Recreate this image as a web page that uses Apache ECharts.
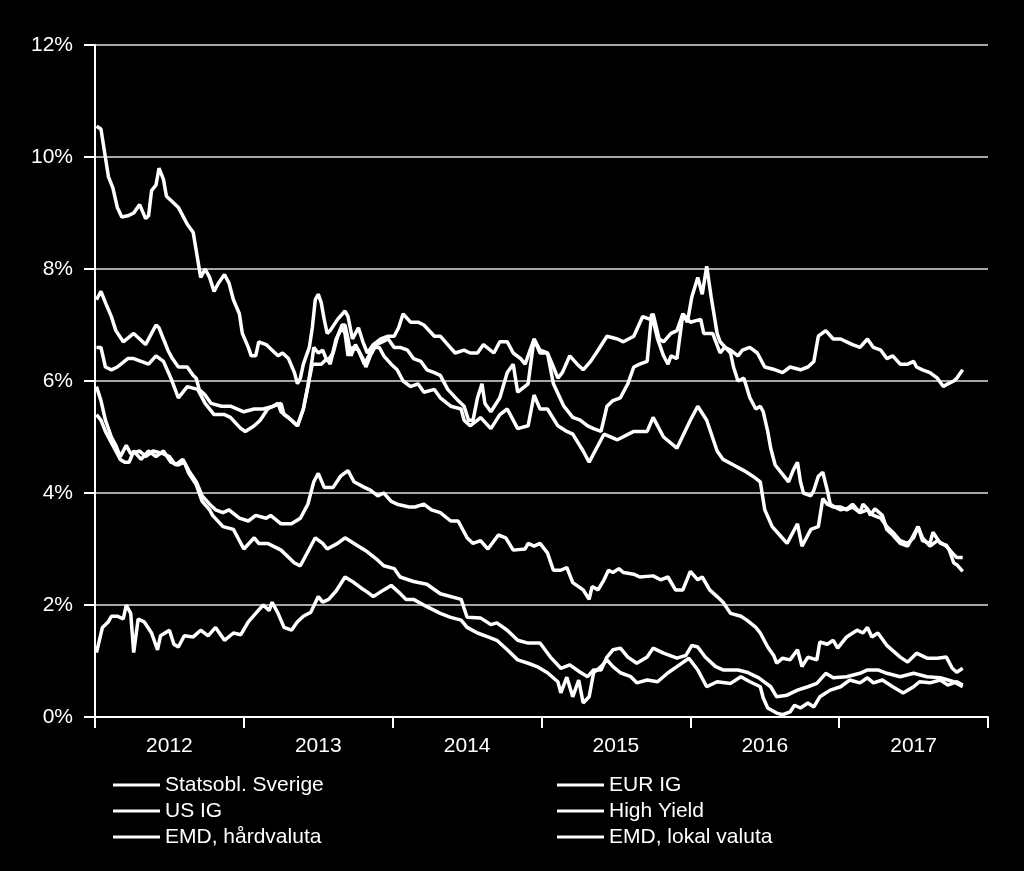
<!DOCTYPE html>
<html>
<head>
<meta charset="utf-8">
<script src="https://cdn.jsdelivr.net/npm/echarts@6/dist/echarts.min.js"></script>
<style>
html,body{margin:0;padding:0;background:#000;}
#chart{width:1024px;height:871px;}
</style>
</head>
<body>
<div id="chart"></div>
<script>
// Year categories for the bottom axis
const years = ['2012', '2013', '2014', '2015', '2016', '2017'];
const yTicks = [0, 2, 4, 6, 8, 10, 12];

// Series data: [decimal year, yield %]
const highYield = [
[2012.01,10.55],[2012.04,10.5],[2012.09,9.65],[2012.12,9.45],[2012.15,9.1],[2012.18,8.93],[2012.22,8.95],[2012.26,9.0],[2012.30,9.15],[2012.34,8.9],[2012.36,8.95],[2012.38,9.4],[2012.41,9.5],[2012.43,9.8],[2012.46,9.6],[2012.48,9.3],[2012.52,9.2],[2012.56,9.1],[2012.62,8.8],[2012.66,8.65],[2012.71,7.85],[2012.74,8.0],[2012.77,7.85],[2012.80,7.6],[2012.83,7.75],[2012.87,7.9],[2012.90,7.75],[2012.93,7.45],[2012.97,7.2],[2012.99,6.85],
[2013.03,6.6],[2013.05,6.45],[2013.08,6.45],[2013.10,6.7],[2013.15,6.65],[2013.19,6.55],[2013.23,6.45],[2013.26,6.5],[2013.30,6.4],[2013.34,6.15],[2013.36,5.95],[2013.38,6.05],[2013.40,6.3],[2013.44,6.6],[2013.46,6.95],[2013.48,7.45],[2013.50,7.55],[2013.52,7.4],[2013.54,7.1],[2013.56,6.85],[2013.58,6.9],[2013.63,7.1],[2013.68,7.25],[2013.70,7.15],[2013.73,6.75],[2013.77,6.95],[2013.80,6.7],[2013.83,6.5],[2013.87,6.65],[2013.92,6.75],[2013.97,6.8],
[2014.01,6.8],[2014.04,6.95],[2014.07,7.2],[2014.12,7.05],[2014.17,7.05],[2014.21,7.0],[2014.28,6.8],[2014.32,6.8],[2014.37,6.65],[2014.42,6.5],[2014.48,6.55],[2014.52,6.5],[2014.57,6.5],[2014.61,6.65],[2014.68,6.5],[2014.72,6.7],[2014.77,6.7],[2014.81,6.5],[2014.86,6.4],[2014.89,6.3],[2014.95,6.75],[2014.99,6.55],
[2015.04,6.5],[2015.08,5.95],[2015.15,5.55],[2015.21,5.35],[2015.26,5.3],[2015.31,5.2],[2015.35,5.15],[2015.40,5.1],[2015.44,5.55],[2015.48,5.65],[2015.53,5.7],[2015.58,5.95],[2015.62,6.25],[2015.66,6.3],[2015.71,6.35],[2015.74,7.2],[2015.78,6.75],[2015.82,6.45],[2015.85,6.3],[2015.87,6.45],[2015.91,6.4],[2015.95,7.2],[2015.98,7.05],
[2016.01,7.5],[2016.05,7.85],[2016.08,7.55],[2016.11,8.05],[2016.14,7.5],[2016.18,6.85],[2016.20,6.7],[2016.27,6.5],[2016.29,6.25],[2016.32,6.0],[2016.36,6.05],[2016.40,5.7],[2016.44,5.5],[2016.47,5.55],[2016.49,5.45],[2016.52,5.1],[2016.54,4.8],[2016.57,4.5],[2016.60,4.4],[2016.66,4.2],[2016.69,4.4],[2016.72,4.55],[2016.74,4.2],[2016.76,4.0],[2016.81,3.95],[2016.83,4.05],[2016.86,4.3],[2016.89,4.37],[2016.92,4.05],[2016.94,3.8],[2016.97,3.75],
[2017.01,3.7],[2017.06,3.73],[2017.09,3.8],[2017.14,3.65],[2017.16,3.8],[2017.19,3.72],[2017.21,3.6],[2017.24,3.72],[2017.29,3.6],[2017.32,3.35],[2017.36,3.25],[2017.41,3.1],[2017.46,3.05],[2017.50,3.25],[2017.53,3.4],[2017.56,3.15],[2017.61,3.1],[2017.63,3.3],[2017.68,3.1],[2017.72,3.07],[2017.74,2.98],[2017.77,2.75],[2017.79,2.72],[2017.83,2.6]
];

const emdLokal = [
[2012.01,7.45],[2012.04,7.6],[2012.07,7.4],[2012.11,7.15],[2012.14,6.9],[2012.19,6.7],[2012.26,6.85],[2012.30,6.75],[2012.34,6.65],[2012.38,6.85],[2012.41,7.0],[2012.43,6.95],[2012.46,6.75],[2012.49,6.55],[2012.52,6.4],[2012.56,6.25],[2012.62,6.25],[2012.66,6.1],[2012.68,6.05],[2012.70,5.85],[2012.74,5.75],[2012.78,5.6],[2012.85,5.55],[2012.91,5.55],
[2013.00,5.45],[2013.07,5.5],[2013.13,5.5],[2013.20,5.55],[2013.25,5.6],[2013.27,5.4],[2013.32,5.3],[2013.36,5.2],[2013.40,5.5],[2013.43,5.9],[2013.46,6.4],[2013.47,6.6],[2013.50,6.5],[2013.53,6.55],[2013.56,6.35],[2013.60,6.5],[2013.63,6.8],[2013.66,7.0],[2013.68,7.0],[2013.70,6.75],[2013.72,6.45],[2013.75,6.65],[2013.77,6.55],[2013.80,6.4],[2013.82,6.25],[2013.85,6.45],[2013.89,6.65],[2013.93,6.7],[2013.97,6.75],
[2014.01,6.6],[2014.05,6.6],[2014.10,6.55],[2014.14,6.4],[2014.19,6.35],[2014.23,6.2],[2014.28,6.15],[2014.32,6.1],[2014.37,5.85],[2014.44,5.65],[2014.48,5.55],[2014.51,5.3],[2014.54,5.3],[2014.57,5.7],[2014.60,5.95],[2014.62,5.6],[2014.66,5.45],[2014.72,5.7],[2014.77,6.15],[2014.81,6.3],[2014.84,5.8],[2014.91,5.95],[2014.95,6.75],[2014.99,6.5],
[2015.04,6.5],[2015.08,6.25],[2015.11,6.05],[2015.14,6.15],[2015.19,6.45],[2015.24,6.3],[2015.28,6.2],[2015.33,6.35],[2015.38,6.55],[2015.44,6.8],[2015.51,6.75],[2015.55,6.7],[2015.62,6.8],[2015.68,7.15],[2015.73,7.1],[2015.75,7.2],[2015.79,6.75],[2015.82,6.7],[2015.87,6.85],[2015.91,6.9],[2015.95,7.2],
[2016.00,7.05],[2016.07,7.1],[2016.09,6.85],[2016.15,6.85],[2016.20,6.5],[2016.23,6.6],[2016.27,6.55],[2016.32,6.45],[2016.35,6.55],[2016.40,6.6],[2016.45,6.5],[2016.50,6.25],[2016.57,6.2],[2016.62,6.15],[2016.67,6.25],[2016.74,6.2],[2016.79,6.25],[2016.83,6.35],[2016.86,6.8],[2016.91,6.9],[2016.96,6.75],
[2017.01,6.75],[2017.05,6.7],[2017.09,6.65],[2017.14,6.6],[2017.19,6.75],[2017.23,6.6],[2017.28,6.55],[2017.32,6.4],[2017.36,6.45],[2017.41,6.3],[2017.46,6.3],[2017.50,6.35],[2017.52,6.25],[2017.56,6.2],[2017.61,6.15],[2017.66,6.05],[2017.70,5.9],[2017.73,5.95],[2017.77,6.0],[2017.79,6.05],[2017.83,6.2]
];

const emdHard = [
[2012.01,6.6],[2012.04,6.6],[2012.07,6.25],[2012.11,6.2],[2012.15,6.25],[2012.22,6.4],[2012.26,6.4],[2012.31,6.35],[2012.36,6.3],[2012.41,6.45],[2012.46,6.35],[2012.51,6.05],[2012.56,5.7],[2012.62,5.9],[2012.69,5.85],[2012.74,5.6],[2012.80,5.4],[2012.87,5.4],[2012.91,5.35],[2012.98,5.15],
[2013.01,5.1],[2013.07,5.2],[2013.11,5.3],[2013.16,5.5],[2013.23,5.6],[2013.25,5.45],[2013.30,5.35],[2013.36,5.2],[2013.40,5.5],[2013.43,5.9],[2013.46,6.3],[2013.48,6.3],[2013.52,6.3],[2013.56,6.4],[2013.58,6.3],[2013.62,6.75],[2013.66,6.95],[2013.68,6.85],[2013.70,6.45],[2013.73,6.6],[2013.77,6.55],[2013.81,6.3],[2013.84,6.45],[2013.87,6.6],[2013.91,6.6],[2013.94,6.45],[2013.99,6.3],
[2014.03,6.2],[2014.07,6.0],[2014.12,5.9],[2014.17,5.95],[2014.21,5.8],[2014.28,5.85],[2014.32,5.7],[2014.39,5.55],[2014.46,5.5],[2014.48,5.3],[2014.52,5.2],[2014.57,5.3],[2014.59,5.35],[2014.66,5.15],[2014.72,5.4],[2014.77,5.5],[2014.84,5.15],[2014.91,5.2],[2014.95,5.75],[2014.99,5.5],
[2015.04,5.5],[2015.11,5.2],[2015.17,5.1],[2015.21,5.05],[2015.28,4.75],[2015.32,4.55],[2015.35,4.7],[2015.42,5.05],[2015.51,4.95],[2015.62,5.1],[2015.71,5.1],[2015.75,5.35],[2015.82,5.0],[2015.91,4.8],
[2016.00,5.3],[2016.05,5.55],[2016.11,5.3],[2016.18,4.75],[2016.22,4.6],[2016.29,4.5],[2016.36,4.4],[2016.42,4.3],[2016.47,4.2],[2016.50,3.7],[2016.55,3.4],[2016.60,3.25],[2016.65,3.1],[2016.72,3.45],[2016.75,3.05],[2016.81,3.35],[2016.86,3.4],[2016.89,3.9],[2016.92,3.8],[2016.96,3.75],
[2017.01,3.75],[2017.05,3.7],[2017.09,3.75],[2017.14,3.65],[2017.19,3.7],[2017.23,3.6],[2017.28,3.55],[2017.32,3.4],[2017.36,3.3],[2017.41,3.15],[2017.46,3.1],[2017.50,3.2],[2017.53,3.4],[2017.56,3.2],[2017.61,3.05],[2017.66,3.15],[2017.72,3.05],[2017.77,2.9],[2017.79,2.85],[2017.83,2.85]
];

const usIG = [
[2012.01,5.9],[2012.04,5.65],[2012.07,5.3],[2012.11,5.0],[2012.14,4.85],[2012.17,4.65],[2012.21,4.85],[2012.24,4.7],[2012.30,4.75],[2012.34,4.65],[2012.39,4.75],[2012.46,4.7],[2012.50,4.65],[2012.54,4.5],[2012.59,4.6],[2012.63,4.4],[2012.68,4.2],[2012.72,3.95],[2012.77,3.8],[2012.81,3.7],[2012.86,3.65],[2012.90,3.7],[2012.97,3.55],
[2013.03,3.5],[2013.08,3.6],[2013.15,3.55],[2013.18,3.6],[2013.25,3.45],[2013.32,3.45],[2013.38,3.55],[2013.43,3.8],[2013.47,4.2],[2013.50,4.35],[2013.54,4.1],[2013.60,4.1],[2013.65,4.3],[2013.70,4.4],[2013.74,4.2],[2013.81,4.1],[2013.85,4.05],[2013.90,3.95],[2013.94,4.0],[2013.99,3.85],
[2014.03,3.8],[2014.11,3.75],[2014.15,3.75],[2014.21,3.8],[2014.26,3.7],[2014.32,3.65],[2014.39,3.5],[2014.44,3.5],[2014.50,3.2],[2014.54,3.1],[2014.59,3.15],[2014.64,3.0],[2014.71,3.25],[2014.76,3.2],[2014.81,2.98],[2014.89,3.0],[2014.91,3.1],[2014.95,3.05],[2014.99,3.1],
[2015.04,2.93],[2015.08,2.62],[2015.13,2.62],[2015.17,2.67],[2015.21,2.4],[2015.28,2.27],[2015.32,2.1],[2015.34,2.33],[2015.38,2.27],[2015.42,2.45],[2015.45,2.62],[2015.48,2.58],[2015.52,2.65],[2015.55,2.58],[2015.62,2.55],[2015.66,2.5],[2015.75,2.52],[2015.80,2.45],[2015.85,2.5],[2015.90,2.27],[2015.95,2.27],
[2016.00,2.6],[2016.05,2.45],[2016.08,2.5],[2016.13,2.27],[2016.18,2.15],[2016.22,2.05],[2016.27,1.85],[2016.34,1.8],[2016.38,1.73],[2016.44,1.6],[2016.47,1.5],[2016.52,1.25],[2016.56,1.1],[2016.58,0.96],[2016.62,1.05],[2016.67,1.02],[2016.72,1.2],[2016.75,0.9],[2016.79,1.07],[2016.85,1.02],[2016.87,1.34],[2016.92,1.3],[2016.96,1.37],[2016.99,1.23],
[2017.05,1.43],[2017.12,1.55],[2017.16,1.5],[2017.19,1.6],[2017.22,1.43],[2017.26,1.5],[2017.32,1.28],[2017.41,1.07],[2017.46,0.98],[2017.52,1.14],[2017.59,1.05],[2017.66,1.05],[2017.72,1.07],[2017.76,0.87],[2017.79,0.8],[2017.83,0.87]
];

const eurIG = [
[2012.01,5.4],[2012.04,5.3],[2012.07,5.1],[2012.11,4.9],[2012.14,4.75],[2012.17,4.6],[2012.20,4.55],[2012.23,4.55],[2012.26,4.75],[2012.31,4.6],[2012.36,4.75],[2012.41,4.65],[2012.46,4.75],[2012.51,4.55],[2012.56,4.5],[2012.60,4.55],[2012.63,4.35],[2012.68,4.15],[2012.72,3.85],[2012.77,3.7],[2012.79,3.6],[2012.86,3.4],[2012.93,3.35],[2012.96,3.2],
[2013.00,3.0],[2013.07,3.2],[2013.10,3.1],[2013.16,3.1],[2013.25,2.98],[2013.34,2.75],[2013.38,2.7],[2013.43,2.95],[2013.48,3.2],[2013.53,3.1],[2013.56,3.0],[2013.63,3.1],[2013.68,3.2],[2013.77,3.05],[2013.83,2.95],[2013.90,2.8],[2013.94,2.7],
[2014.01,2.65],[2014.05,2.5],[2014.14,2.42],[2014.23,2.37],[2014.32,2.2],[2014.46,2.1],[2014.50,1.78],[2014.59,1.77],[2014.66,1.65],[2014.70,1.68],[2014.77,1.55],[2014.84,1.37],[2014.91,1.32],[2014.99,1.32],
[2015.06,1.07],[2015.13,0.87],[2015.19,0.93],[2015.26,0.8],[2015.31,0.72],[2015.35,0.84],[2015.40,0.84],[2015.44,1.07],[2015.48,1.2],[2015.53,1.23],[2015.58,1.07],[2015.64,0.96],[2015.71,1.07],[2015.75,1.23],[2015.82,1.14],[2015.91,1.05],[2015.97,1.1],
[2016.01,1.28],[2016.05,1.25],[2016.10,1.07],[2016.17,0.9],[2016.22,0.84],[2016.32,0.84],[2016.38,0.8],[2016.46,0.7],[2016.54,0.54],[2016.58,0.36],[2016.65,0.39],[2016.72,0.48],[2016.79,0.54],[2016.85,0.6],[2016.91,0.78],[2016.96,0.7],
[2017.05,0.72],[2017.14,0.78],[2017.19,0.84],[2017.26,0.84],[2017.32,0.78],[2017.41,0.72],[2017.50,0.78],[2017.59,0.72],[2017.68,0.7],[2017.77,0.63],[2017.83,0.54]
];

const statsoblSverige = [
[2012.01,1.15],[2012.02,1.15],[2012.05,1.6],[2012.09,1.7],[2012.11,1.8],[2012.15,1.8],[2012.19,1.75],[2012.21,2.0],[2012.24,1.85],[2012.26,1.15],[2012.29,1.75],[2012.33,1.7],[2012.38,1.5],[2012.42,1.2],[2012.44,1.45],[2012.50,1.55],[2012.53,1.3],[2012.56,1.25],[2012.60,1.45],[2012.66,1.43],[2012.71,1.55],[2012.76,1.45],[2012.81,1.6],[2012.87,1.37],[2012.93,1.5],[2012.98,1.47],
[2013.03,1.7],[2013.08,1.85],[2013.13,2.0],[2013.17,1.9],[2013.19,2.05],[2013.23,1.85],[2013.27,1.6],[2013.32,1.55],[2013.36,1.7],[2013.40,1.8],[2013.45,1.87],[2013.50,2.15],[2013.53,2.05],[2013.57,2.1],[2013.62,2.25],[2013.68,2.5],[2013.74,2.4],[2013.79,2.3],[2013.83,2.23],[2013.87,2.15],[2013.94,2.27],[2013.99,2.35],
[2014.04,2.23],[2014.09,2.1],[2014.14,2.1],[2014.23,1.97],[2014.32,1.85],[2014.39,1.78],[2014.46,1.73],[2014.50,1.6],[2014.57,1.5],[2014.64,1.43],[2014.70,1.37],[2014.77,1.2],[2014.84,1.02],[2014.91,0.96],[2014.97,0.9],
[2015.04,0.79],[2015.11,0.63],[2015.13,0.43],[2015.17,0.71],[2015.21,0.36],[2015.25,0.66],[2015.28,0.25],[2015.32,0.36],[2015.35,0.79],[2015.40,0.9],[2015.44,1.02],[2015.48,0.9],[2015.53,0.79],[2015.60,0.72],[2015.64,0.61],[2015.71,0.66],[2015.78,0.63],[2015.85,0.79],[2015.91,0.9],[2015.99,1.05],
[2016.05,0.84],[2016.11,0.54],[2016.18,0.63],[2016.27,0.6],[2016.34,0.72],[2016.40,0.63],[2016.47,0.54],[2016.49,0.34],[2016.52,0.16],[2016.58,0.07],[2016.62,0.04],[2016.67,0.09],[2016.70,0.21],[2016.74,0.16],[2016.79,0.25],[2016.83,0.18],[2016.87,0.36],[2016.94,0.48],
[2017.01,0.54],[2017.07,0.66],[2017.14,0.61],[2017.19,0.7],[2017.23,0.61],[2017.29,0.66],[2017.36,0.54],[2017.43,0.43],[2017.50,0.54],[2017.54,0.63],[2017.61,0.61],[2017.68,0.66],[2017.73,0.57],[2017.79,0.63],[2017.83,0.57]
];

const seriesDefs = [
  { name: 'Statsobl. Sverige', data: statsoblSverige },
  { name: 'EUR IG', data: eurIG },
  { name: 'US IG', data: usIG },
  { name: 'High Yield', data: highYield },
  { name: 'EMD, hårdvaluta', data: emdHard },
  { name: 'EMD, lokal valuta', data: emdLokal }
];

const FONT = '"Liberation Sans", Arial, sans-serif';
const chart = echarts.init(document.getElementById('chart'), null, { renderer: 'canvas' });

const legendCommon = {
  orient: 'vertical',
  icon: 'rect',
  itemWidth: 47,
  itemHeight: 3,
  itemGap: 4,
  textStyle: { color: '#fff', fontSize: 21, fontFamily: FONT, lineHeight: 22 },
  inactiveColor: '#fff'
};

chart.setOption({
  backgroundColor: '#000',
  animation: false,
  grid: { left: 95, right: 36, top: 45, bottom: 154, containLabel: false },
  legend: [
    Object.assign({}, legendCommon, { left: 108, top: 769, data: ['Statsobl. Sverige', 'US IG', 'EMD, hårdvaluta'] }),
    Object.assign({}, legendCommon, { left: 552, top: 769, data: ['EUR IG', 'High Yield', 'EMD, lokal valuta'] })
  ],
  xAxis: [
    {
      type: 'category',
      data: years,
      boundaryGap: true,
      axisLine: { show: true, lineStyle: { color: '#fff', width: 2 } },
      axisTick: { show: true, length: 11, interval: 0, lineStyle: { color: '#fff', width: 2 } },
      axisLabel: { color: '#fff', fontSize: 21, fontFamily: FONT, margin: 19, interval: 0 },
      splitLine: { show: false }
    },
    {
      type: 'value',
      min: 2012,
      max: 2018,
      show: false,
      splitLine: { show: false }
    }
  ],
  yAxis: {
    type: 'value',
    min: yTicks[0],
    max: yTicks[yTicks.length - 1],
    interval: 2,
    axisLine: { show: true, lineStyle: { color: '#fff', width: 2 } },
    axisTick: { show: true, length: 11, lineStyle: { color: '#fff', width: 2 } },
    axisLabel: { color: '#fff', fontSize: 21, fontFamily: FONT, margin: 22, formatter: '{value}%' },
    splitLine: { show: true, lineStyle: { color: '#a6a6a6', width: 2 } }
  },
  series: seriesDefs.map(s => ({
    name: s.name,
    type: 'line',
    xAxisIndex: 1,
    data: s.data,
    showSymbol: false,
    symbol: 'none',
    itemStyle: { color: '#fff' },
    lineStyle: { color: '#fff', width: 3.5 },
    emphasis: { disabled: true }
  }))
});
</script>
</body>
</html>
